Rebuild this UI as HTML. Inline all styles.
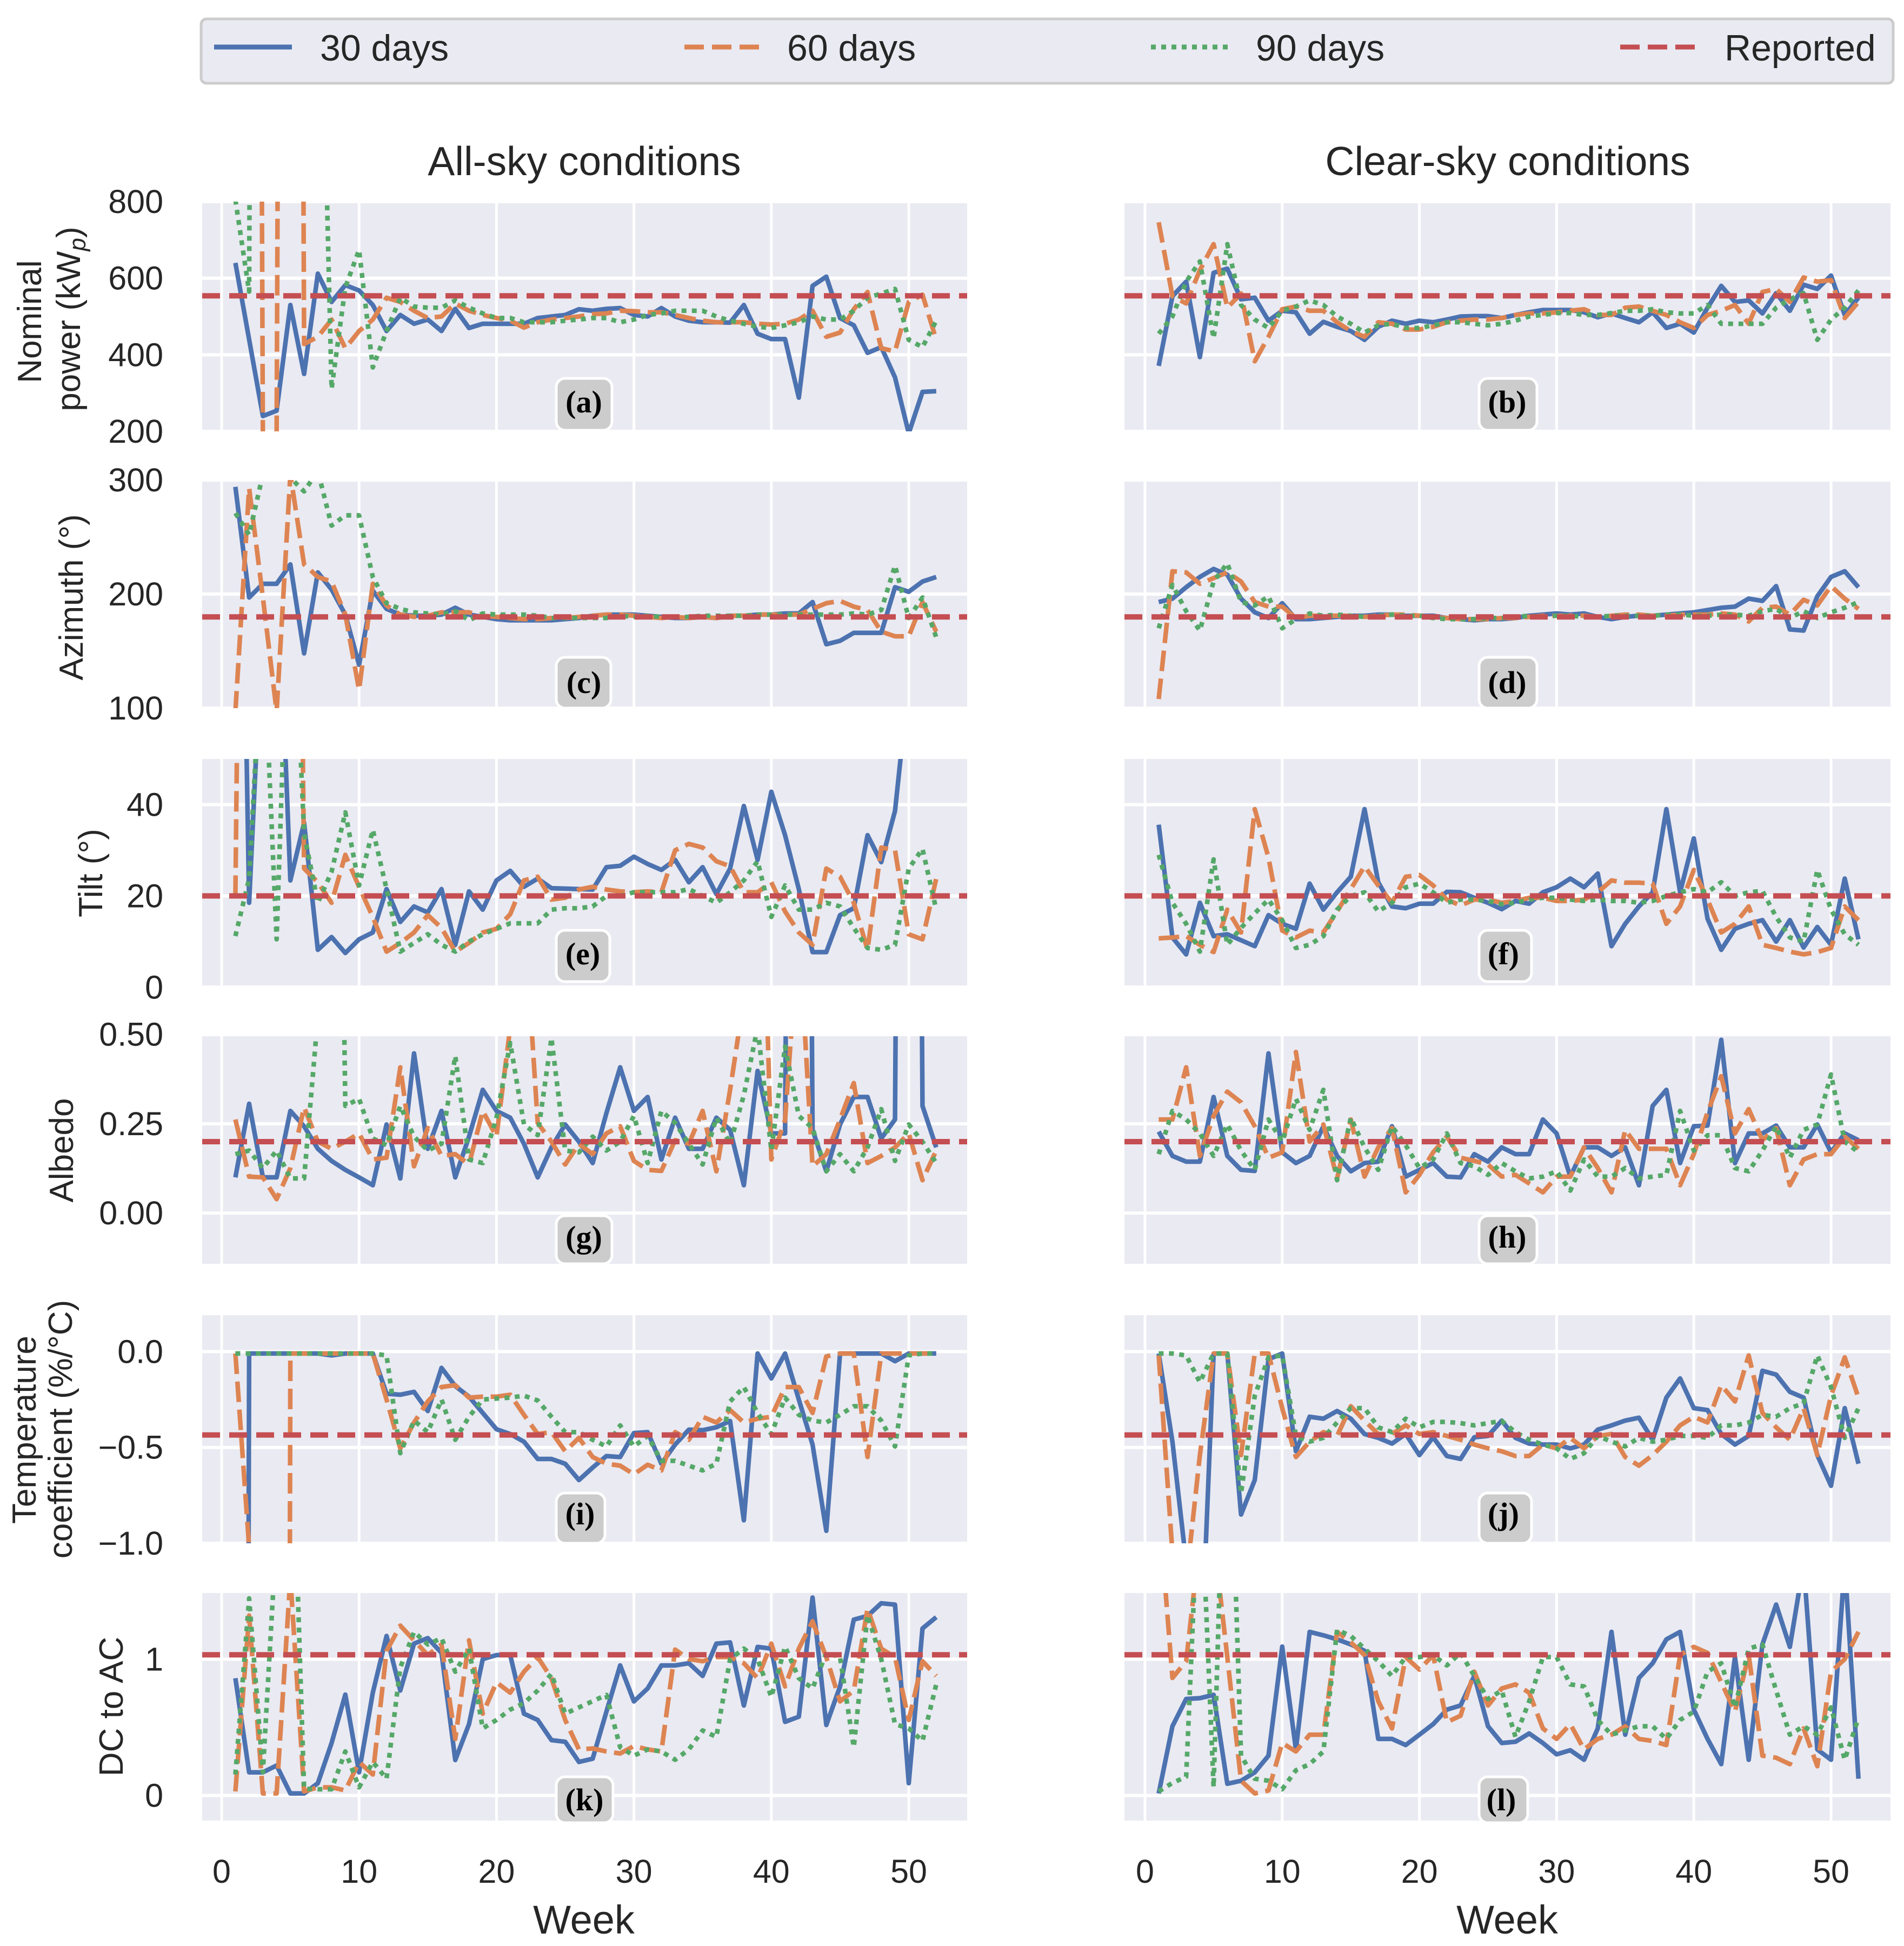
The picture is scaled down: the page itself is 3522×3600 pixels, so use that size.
<!DOCTYPE html>
<html lang="en">
<head>
<meta charset="utf-8">
<title>Parameter estimates by week</title>
<style>
html,body{margin:0;padding:0;background:#fff;overflow:hidden}
svg{display:block}
text{font-family:"Liberation Sans",sans-serif;fill:#262626}
</style>
</head>
<body>
<svg id="chart" xmlns="http://www.w3.org/2000/svg" width="3522" height="3600" viewBox="0 0 3522 3600">
  <rect x="0" y="0" width="3522" height="3600" fill="#ffffff"/>
  <g>
    <rect x="372" y="35" width="3130" height="119" rx="10" ry="10" fill="#eaeaf2" stroke="#cccccc" stroke-width="5"/>
    <g>
      <line x1="396" y1="87" x2="540" y2="87" stroke="#4c72b0" stroke-width="9"/>
      <text x="592" y="112" font-size="68">30 days</text>
    </g>
    <g>
      <line x1="1266" y1="87" x2="1404" y2="87" stroke="#dd8452" stroke-width="9" stroke-dasharray="36 15"/>
      <text x="1456" y="112" font-size="68">60 days</text>
    </g>
    <g>
      <line x1="2129" y1="87" x2="2271" y2="87" stroke="#55a868" stroke-width="9" stroke-dasharray="9 10"/>
      <text x="2323" y="112" font-size="68">90 days</text>
    </g>
    <g>
      <line x1="2997" y1="87" x2="3135" y2="87" stroke="#c44e52" stroke-width="9" stroke-dasharray="36 15"/>
      <text x="3190" y="112" font-size="68">Reported</text>
    </g>
  </g>
  <text x="1081" y="324" font-size="75" text-anchor="middle">All-sky conditions</text>
  <text x="2789" y="324" font-size="75" text-anchor="middle">Clear-sky conditions</text>
  <text transform="translate(76,595) rotate(-90)" font-size="62" text-anchor="middle">Nominal</text>
  <text transform="translate(148,590) rotate(-90)" font-size="62" text-anchor="middle">power (kW<tspan font-size="44" font-style="italic" dy="10">p</tspan><tspan dy="-10">)</tspan></text>
  <text transform="translate(153,1105) rotate(-90)" font-size="62" text-anchor="middle">Azimuth (°)</text>
  <text transform="translate(189,1615) rotate(-90)" font-size="62" text-anchor="middle">Tilt (°)</text>
  <text transform="translate(135,2128) rotate(-90)" font-size="62" text-anchor="middle">Albedo</text>
  <text transform="translate(66,2645) rotate(-90)" font-size="62" text-anchor="middle">Temperature</text>
  <text transform="translate(133,2644) rotate(-90)" font-size="62" text-anchor="middle">coefficient (%/°C)</text>
  <text transform="translate(227,3157) rotate(-90)" font-size="62" text-anchor="middle">DC to AC</text>
  <text x="1080" y="3577" font-size="74" text-anchor="middle">Week</text>
  <text x="2788" y="3577" font-size="74" text-anchor="middle">Week</text>
  <g id="panels"></g>
</svg>
<script>
const weeks = [1,2,3,4,5,6,7,8,9,10,11,12,13,14,15,16,17,18,19,20,21,22,23,24,25,26,27,28,29,30,31,32,33,34,35,36,37,38,39,40,41,42,43,44,45,46,47,48,49,50,51,52];
const xTicks = [0,10,20,30,40,50];

const powerTicks = [200,400,600,800];
const powerTickLabels = ['200','400','600','800'];
const azimuthTicks = [100,200,300];
const azimuthTickLabels = ['100','200','300'];
const tiltTicks = [0,20,40];
const tiltTickLabels = ['0','20','40'];
const albedoTicks = [0,0.25,0.5];
const albedoTickLabels = ['0.00','0.25','0.50'];
const tempTicks = [-1,-0.5,0];
const tempTickLabels = ['\u22121.0','\u22120.5','0.0'];
const dcacTicks = [0,1];
const dcacTickLabels = ['0','1'];

const reportedPower = 554;
const reportedAzimuth = 180;
const reportedTilt = 20;
const reportedAlbedo = 0.2;
const reportedTemp = -0.435;
const reportedDcac = 1.032;

const a30 = [640,440,240,254,530,350,612,538,582,568,530,462,504,481,492,462,520,470,481,481,481,481,496,500,504,519,515,520,522,504,500,522,500,489,485,485,484,530,455,441,441,288,580,604,496,477,405,420,341,195,303,305];
const a60 = [9000,9000,190,190,9000,428,447,492,417,462,492,549,538,515,496,500,534,515,504,496,489,471,485,492,496,500,506,508,515,514,511,511,504,496,489,485,485,485,481,479,481,492,515,447,458,519,564,417,409,538,557,439];
const a90 = [805,565,9000,9000,9000,9000,1800,311,576,674,367,462,549,526,523,523,542,523,508,496,496,485,485,485,489,492,496,496,485,492,504,508,515,515,515,500,489,481,473,470,477,485,500,492,492,515,549,560,572,439,420,489];

const b30 = [371,553,591,394,614,625,545,549,489,515,511,455,486,473,462,439,473,489,481,489,485,492,500,501,501,496,504,511,517,517,517,511,498,508,496,485,511,470,481,458,523,580,538,542,508,561,515,583,572,607,504,549];
const b60 = [746,553,534,621,689,523,560,383,447,519,526,515,515,485,462,447,485,481,466,466,473,485,489,492,492,496,504,508,508,511,515,519,504,504,523,526,515,504,485,470,504,515,530,481,564,572,538,602,591,595,496,538];
const b90 = [455,500,591,644,443,689,530,492,470,515,526,542,530,500,481,458,477,481,470,470,477,485,485,481,477,481,489,500,504,509,509,504,504,509,515,515,519,511,508,508,530,481,481,481,481,523,545,561,439,492,523,568];

const c30 = [294,197,209,209,226,148,219,204,182,138,203,187,182,181,181,182,188,182,180,178,177,177,177,177,178,179,181,182,182,182,181,180,179,179,180,179,181,181,182,182,183,183,193,156,159,166,166,166,206,202,211,215];
const c60 = [97,293,197,97,305,226,215,211,182,116,209,190,182,180,181,184,184,184,181,180,179,178,178,179,179,180,181,182,182,181,180,179,180,179,180,179,181,181,182,182,182,182,187,192,194,189,186,167,163,163,193,167];
const c90 = [271,252,305,330,302,290,308,260,269,269,215,192,187,184,183,182,185,177,183,182,182,182,181,179,179,179,179,179,181,180,181,180,180,180,181,181,181,181,182,182,182,182,182,182,182,183,182,186,225,179,197,162];

const d30 = [193,196,206,215,222,217,196,184,179,192,178,178,179,180,181,181,182,182,181,181,181,179,178,177,178,178,179,181,182,183,182,183,180,178,180,181,181,182,183,184,186,188,189,196,194,207,169,168,198,215,220,206];
const d60 = [108,220,219,209,214,219,211,193,189,189,179,181,181,181,181,180,181,182,182,181,180,179,178,178,178,179,179,180,181,181,181,181,180,181,182,182,181,181,182,182,182,183,182,176,188,189,182,195,190,207,196,187];
const d90 = [170,208,185,168,211,227,193,190,198,170,178,183,181,182,181,180,181,182,181,181,179,178,178,178,179,179,180,181,180,181,181,180,180,181,181,181,181,182,182,181,181,182,182,181,185,187,179,185,179,184,188,193];

const e30 = [193,18.5,82,100,23.4,36,8.2,11,7.5,10.5,12,21.5,14.3,17.7,16.4,21.5,9.3,21,17,23.4,25.5,22,23.8,21.7,21.6,21.5,21.4,26.3,26.6,28.6,27,25.7,27.9,23,26.3,20.4,26,39.7,27.9,42.8,33.3,21.5,7.7,7.7,15.8,17.3,33.3,27.4,38.6,67,80,80];
const e60 = [20,300,300,300,300,26,23,18.5,29,22,15.4,7.8,9.7,12,15.8,13,7.8,9.7,12,12.8,16,23.4,24.2,19.2,19.6,21.4,22,21.4,21,20.8,21,20.8,30,31.4,30.6,27.6,26.5,20.8,20.8,23,16.6,12,9.3,26,24.2,18.5,8.2,30.6,30,11.6,10.5,23.8];
const e90 = [11.2,23.8,80,10.5,100,33.7,18.5,25.3,38.3,22.3,34.5,21.5,7.8,9.7,11.6,9.3,7.8,10,11.6,12.8,14,14,14,17,17.3,17.3,17.7,20,20,20.8,20.8,20.8,20.8,21.5,20,18.5,20.8,23.4,27.6,15.4,22.3,17,17,18.5,17.7,13,8.6,8.2,9.3,26,30.3,17];

const f30 = [35.6,10.9,7.2,18.5,11.2,11.6,10.3,9,15.8,13.9,12.8,22.7,17,20.8,24.2,39,23,17.7,17.3,18.3,18.3,20.9,20.8,19.6,18.5,17.1,18.9,18.3,20.8,21.9,23.8,21.9,24.9,9,13.9,17.7,20.8,39,20.8,32.6,15,8.2,12.8,13.9,14.7,10,14.7,8.7,13.2,9.3,23.8,10.5];
const f60 = [10.7,10.9,11.2,9.3,7.7,17,12,39,28.4,12.4,10.9,12.4,12,16.6,21.5,26.5,22.3,18.5,24.2,24.6,22.3,19.2,17.9,19.2,19.2,18.5,18.9,19.6,19.6,18.9,18.9,19.2,20.8,23.4,22.9,22.9,22.7,13.9,17.7,25.7,19.2,12,13.9,17.7,9.3,8.6,7.8,7.2,7.7,8.6,17.7,14.7];
const f90 = [29,18.5,13.9,7.8,28,9.3,13,16.2,19.2,14.7,8.6,9.3,11.2,17,20,20.8,16.6,18.5,21.9,22.7,20.8,18.5,19.2,19.2,18.9,18.2,18.5,19.2,19.6,19.6,19.2,18.9,19.2,18.9,18.9,18.5,18.9,20,20.8,21.5,20.8,23,20,20.8,21.1,15.4,10.9,10,25.7,17,11.6,9.3];

const g30 = [0.10,0.306,0.10,0.10,0.286,0.243,0.18,0.146,0.121,0.10,0.078,0.248,0.097,0.447,0.18,0.286,0.10,0.214,0.345,0.286,0.267,0.194,0.10,0.184,0.248,0.2,0.14,0.28,0.408,0.286,0.325,0.15,0.267,0.18,0.18,0.267,0.233,0.078,0.398,0.223,0.223,6,0.233,0.117,0.248,0.325,0.325,0.209,0.262,6,0.30,0.184];
const g60 = [0.262,0.102,0.10,0.039,0.126,0.296,0.2,0.18,0.2,0.223,0.15,0.155,0.408,0.131,0.238,0.16,0.165,0.136,0.286,0.214,0.52,0.85,0.252,0.2,0.136,0.194,0.165,0.223,0.243,0.146,0.121,0.118,0.204,0.194,0.286,0.117,0.345,0.6,1.5,0.15,0.26,0.8,0.131,0.165,0.262,0.364,0.14,0.16,0.184,0.223,0.092,0.175];
const g90 = [0.165,0.175,0.126,0.175,0.097,0.097,0.55,3,0.30,0.32,0.209,0.19,0.30,0.214,0.175,0.194,0.44,0.15,0.14,0.267,0.476,0.248,0.218,0.49,0.175,0.17,0.214,0.175,0.2,0.272,0.14,0.286,0.252,0.194,0.136,0.267,0.194,0.33,0.52,0.175,0.466,0.272,0.238,0.117,0.165,0.117,0.184,0.291,0.146,0.248,0.2,0.14];

const h30 = [0.228,0.16,0.144,0.144,0.325,0.16,0.121,0.118,0.447,0.17,0.14,0.16,0.243,0.16,0.117,0.14,0.144,0.243,0.102,0.121,0.14,0.102,0.10,0.165,0.144,0.184,0.165,0.165,0.262,0.223,0.102,0.184,0.184,0.16,0.184,0.078,0.30,0.345,0.14,0.243,0.245,0.485,0.14,0.223,0.223,0.245,0.184,0.184,0.248,0.17,0.223,0.204];
const h60 = [0.262,0.262,0.408,0.16,0.272,0.34,0.31,0.243,0.155,0.17,0.451,0.2,0.248,0.097,0.262,0.102,0.184,0.238,0.058,0.107,0.17,0.214,0.155,0.146,0.136,0.102,0.107,0.083,0.058,0.102,0.102,0.184,0.126,0.058,0.233,0.18,0.18,0.18,0.078,0.165,0.282,0.383,0.223,0.291,0.204,0.238,0.078,0.15,0.165,0.165,0.214,0.18];
const h90 = [0.165,0.286,0.262,0.223,0.16,0.248,0.175,0.121,0.262,0.2,0.32,0.233,0.345,0.092,0.267,0.184,0.121,0.243,0.19,0.126,0.15,0.223,0.14,0.131,0.107,0.14,0.117,0.097,0.102,0.117,0.063,0.15,0.102,0.102,0.126,0.097,0.102,0.107,0.286,0.175,0.218,0.218,0.126,0.117,0.175,0.243,0.155,0.233,0.248,0.388,0.2,0.17];

const i30 = [-25,-0.01,-0.01,-0.01,-0.01,-0.01,-0.01,-0.02,-0.01,-0.01,-0.01,-0.22,-0.225,-0.21,-0.31,-0.085,-0.18,-0.235,-0.32,-0.405,-0.43,-0.47,-0.56,-0.56,-0.585,-0.67,-0.605,-0.545,-0.55,-0.425,-0.42,-0.585,-0.485,-0.407,-0.41,-0.395,-0.362,-0.88,-0.01,-0.14,-0.01,-0.25,-0.485,-0.935,-0.01,-0.01,-0.01,-0.01,-0.05,-0.01,-0.01,-0.01];
const i60 = [-0.01,-1.02,-30,-30,-0.01,-0.01,-0.01,-0.01,-0.01,-0.01,-0.01,-0.25,-0.505,-0.37,-0.26,-0.185,-0.175,-0.24,-0.235,-0.235,-0.225,-0.33,-0.43,-0.42,-0.52,-0.45,-0.55,-0.585,-0.595,-0.64,-0.59,-0.62,-0.42,-0.46,-0.34,-0.37,-0.305,-0.37,-0.35,-0.34,-0.185,-0.185,-0.32,-0.025,-0.01,-0.01,-0.55,-0.01,-0.01,-0.01,-0.01,-0.01];
const i90 = [-0.01,-0.01,-0.01,-0.01,-0.01,-0.01,-0.01,-0.01,-0.01,-0.01,-0.01,-0.02,-0.53,-0.36,-0.42,-0.25,-0.46,-0.34,-0.25,-0.245,-0.24,-0.23,-0.255,-0.34,-0.42,-0.42,-0.46,-0.495,-0.385,-0.495,-0.44,-0.57,-0.57,-0.595,-0.62,-0.585,-0.26,-0.185,-0.32,-0.43,-0.24,-0.33,-0.36,-0.37,-0.33,-0.285,-0.285,-0.36,-0.495,-0.02,-0.01,-0.01];

const j30 = [-0.01,-0.47,-1.1,-1.76,-0.01,-0.01,-0.85,-0.67,-0.04,-0.01,-0.52,-0.34,-0.35,-0.31,-0.35,-0.43,-0.45,-0.48,-0.43,-0.54,-0.447,-0.545,-0.56,-0.447,-0.44,-0.36,-0.45,-0.48,-0.485,-0.485,-0.505,-0.485,-0.407,-0.385,-0.36,-0.345,-0.46,-0.24,-0.14,-0.295,-0.305,-0.43,-0.485,-0.44,-0.1,-0.12,-0.21,-0.24,-0.54,-0.7,-0.295,-0.585];
const j60 = [-0.02,-1.05,-1.2,-0.54,-0.01,-0.01,-0.54,-0.01,-0.01,-0.295,-0.55,-0.47,-0.42,-0.44,-0.285,-0.36,-0.43,-0.43,-0.385,-0.43,-0.42,-0.44,-0.46,-0.485,-0.505,-0.52,-0.545,-0.545,-0.485,-0.505,-0.45,-0.505,-0.44,-0.43,-0.55,-0.595,-0.54,-0.47,-0.385,-0.34,-0.37,-0.175,-0.26,-0.02,-0.32,-0.395,-0.46,-0.295,-0.54,-0.23,-0.03,-0.24];
const j90 = [-0.01,-0.01,-0.02,-0.16,-0.01,-0.01,-0.74,-0.23,-0.03,-0.02,-0.44,-0.47,-0.45,-0.37,-0.295,-0.295,-0.395,-0.42,-0.35,-0.395,-0.367,-0.367,-0.373,-0.385,-0.373,-0.362,-0.42,-0.46,-0.485,-0.505,-0.56,-0.53,-0.44,-0.47,-0.495,-0.45,-0.47,-0.46,-0.44,-0.44,-0.45,-0.385,-0.385,-0.37,-0.33,-0.34,-0.295,-0.27,-0.02,-0.185,-0.45,-0.295];

const k30 = [0.86,0.17,0.17,0.22,0.015,0.015,0.09,0.385,0.74,0.17,0.754,1.17,0.77,1.114,1.154,1.046,0.26,0.523,1,1.03,1.03,0.6,0.554,0.406,0.394,0.246,0.27,0.615,0.954,0.69,0.785,0.954,0.954,0.97,0.877,1.114,1.123,0.66,1.09,1.077,0.54,0.578,1.452,0.517,0.8,1.29,1.317,1.41,1.4,0.09,1.225,1.308];
const k60 = [0.03,1.32,0.015,0.015,1.6,0.03,0.06,0.06,0.037,0.246,0.154,1.06,1.246,1.138,1.03,1.108,0.415,1.138,0.6,0.83,0.754,0.908,1.015,0.86,0.554,0.338,0.345,0.323,0.308,0.363,0.338,0.323,1.07,1,0.985,1.015,1.015,0.97,0.86,1.114,0.8,1.077,1.277,1.015,0.69,0.77,1.37,1.077,1.015,0.554,0.985,0.877];
const k90 = [0.154,1.446,0.17,1.94,3.2,0.05,0.046,0.046,0.323,0.06,0.246,0.123,0.938,1.2,1.108,1.154,0.908,1.077,0.492,0.554,0.63,0.677,0.77,0.892,0.6,0.646,0.692,0.738,0.354,0.292,0.338,0.323,0.262,0.338,0.477,0.43,1,1.077,1,0.723,1.092,0.86,0.785,1.046,1.015,0.354,1.323,1,0.523,0.492,0.4,0.815];

const l30 = [0.015,0.508,0.708,0.714,0.738,0.086,0.108,0.17,0.292,1.092,0.338,1.2,1.175,1.145,1.108,1.062,0.415,0.415,0.37,0.446,0.523,0.63,0.66,0.877,0.508,0.385,0.394,0.455,0.385,0.302,0.332,0.262,0.492,1.2,0.446,0.862,0.97,1.145,1.2,0.63,0.415,0.23,1.015,0.262,1.108,1.4,1.09,1.7,0.338,0.262,1.7,0.123];
const l60 = [2.13,0.862,0.985,1.88,1.9,1.015,0.108,0.015,0.037,0.385,0.323,0.446,0.446,1.2,1.123,1.03,0.692,0.492,1.015,0.923,1.03,0.538,0.585,0.908,0.66,0.785,0.815,0.754,0.492,0.415,0.523,0.338,0.415,0.446,0.508,0.415,0.4,0.37,1.03,1.09,1.046,0.83,0.615,1.03,0.292,0.277,0.23,0.492,0.215,0.908,1,1.2];
const l90 = [0.03,0.092,0.138,2.47,0.06,3.46,0.292,0.123,0.108,0.046,0.185,0.23,0.323,1.215,1.17,1.077,0.985,0.877,1.015,1.015,1.03,0.954,1.046,0.877,0.708,0.77,0.43,0.69,1.015,1.015,0.815,0.8,0.554,0.446,0.477,0.508,0.508,0.415,0.554,0.615,0.908,0.97,0.646,1.077,1.108,0.77,0.446,0.508,0.446,0.646,0.262,0.569];

const seriesNames = ['30-days','60-days','90-days'];
const seriesStyles = [
  {color:'#4c72b0', width:8.5, dash:''},
  {color:'#dd8452', width:8.5, dash:'38 14'},
  {color:'#55a868', width:8.5, dash:'9 10'}
];

const columns = {
  left:  {x0:410,  unit:25.42, left:374,  right:1789, tickLabels:true},
  right: {x0:2118, unit:25.38, left:2080, right:3497, tickLabels:false}
};
const rows = {
  power:   {top:373,  bottom:798,  min:200,    max:800,   ticks:powerTicks,   labels:powerTickLabels,   reported:reportedPower},
  azimuth: {top:888,  bottom:1310, min:100,    max:300,   ticks:azimuthTicks, labels:azimuthTickLabels, reported:reportedAzimuth},
  tilt:    {top:1404, bottom:1823, min:0.4,    max:50,    ticks:tiltTicks,    labels:tiltTickLabels,    reported:reportedTilt},
  albedo:  {top:1917, bottom:2338, min:-0.142, max:0.495, ticks:albedoTicks,  labels:albedoTickLabels,  reported:reportedAlbedo},
  temp:    {top:2433, bottom:2855, min:-1,     max:0.19,  ticks:tempTicks,    labels:tempTickLabels,    reported:reportedTemp},
  dcac:    {top:2947, bottom:3368, min:-0.184, max:1.485, ticks:dcacTicks,    labels:dcacTickLabels,    reported:reportedDcac}
};
const panels = [
  {id:'a', col:'left',  row:'power',   series:[a30,a60,a90], box:[1029,700,103,96],  text:[1080,763]},
  {id:'b', col:'right', row:'power',   series:[b30,b60,b90], box:[2736,700,107,96],  text:[2788,763]},
  {id:'c', col:'left',  row:'azimuth', series:[c30,c60,c90], box:[1029,1216,101,94], text:[1080,1282]},
  {id:'d', col:'right', row:'azimuth', series:[d30,d60,d90], box:[2736,1216,107,94], text:[2788,1282]},
  {id:'e', col:'left',  row:'tilt',    series:[e30,e60,e90], box:[1029,1721,99,95],  text:[1078,1784]},
  {id:'f', col:'right', row:'tilt',    series:[f30,f60,f90], box:[2736,1721,97,95],  text:[2781,1784]},
  {id:'g', col:'left',  row:'albedo',  series:[g30,g60,g90], box:[1029,2249,103,89], text:[1080,2308]},
  {id:'h', col:'right', row:'albedo',  series:[h30,h60,h90], box:[2736,2249,107,89], text:[2788,2308]},
  {id:'i', col:'left',  row:'temp',    series:[i30,i60,i90], box:[1029,2762,90,93],  text:[1073,2820]},
  {id:'j', col:'right', row:'temp',    series:[j30,j60,j90], box:[2736,2762,97,93],  text:[2781,2820]},
  {id:'k', col:'left',  row:'dcac',    series:[k30,k60,k90], box:[1029,3287,105,85], text:[1081,3349]},
  {id:'l', col:'right', row:'dcac',    series:[l30,l60,l90], box:[2736,3287,90,85],  text:[2777,3349]}
];

const NS = 'http://www.w3.org/2000/svg';
const root = document.getElementById('panels');

function mk(tag, attrs, parent) {
  const el = document.createElementNS(NS, tag);
  for (const k in attrs) el.setAttribute(k, attrs[k]);
  parent.appendChild(el);
  return el;
}
function xScale(col, week) { return col.x0 + col.unit * week; }
function yScale(row, value) {
  return row.bottom - (value - row.min) / (row.max - row.min) * (row.bottom - row.top);
}
/* Builds the line path, trimming each segment to just beyond the panel so
   off-scale values stay steep but never extend past the page. */
function linePath(col, row, values) {
  const lo = row.top - 12, hi = row.bottom + 12;
  let d = '', lastX = null, lastY = null;
  for (let i = 1; i < values.length; i++) {
    const x1 = xScale(col, weeks[i - 1]), y1 = yScale(row, values[i - 1]);
    const x2 = xScale(col, weeks[i]), y2 = yScale(row, values[i]);
    if ((y1 < lo && y2 < lo) || (y1 > hi && y2 > hi)) continue;
    let t1 = 0, t2 = 1;
    if (y1 !== y2) {
      const tLo = (lo - y1) / (y2 - y1), tHi = (hi - y1) / (y2 - y1);
      t1 = Math.max(0, Math.min(tLo, tHi));
      t2 = Math.min(1, Math.max(tLo, tHi));
    }
    const ax = x1 + (x2 - x1) * t1, ay = y1 + (y2 - y1) * t1;
    const bx = x1 + (x2 - x1) * t2, by = y1 + (y2 - y1) * t2;
    if (lastX === null || Math.abs(lastX - ax) > 0.01 || Math.abs(lastY - ay) > 0.01) {
      d += 'M' + ax.toFixed(2) + ' ' + ay.toFixed(2);
    }
    d += 'L' + bx.toFixed(2) + ' ' + by.toFixed(2);
    lastX = bx;
    lastY = by;
  }
  return d;
}

const defs = mk('defs', {}, root);

panels.forEach(function (p) {
  const col = columns[p.col];
  const row = rows[p.row];

  const clip = mk('clipPath', {id: 'clip-' + p.id}, defs);
  mk('rect', {x: col.left, y: row.top, width: col.right - col.left, height: row.bottom - row.top}, clip);

  const g = mk('g', {}, root);
  
  

  const bg = mk('rect', {x: col.left, y: row.top, width: col.right - col.left, height: row.bottom - row.top, fill: '#eaeaf2'}, g);
  
  

  xTicks.forEach(function (t) {
    const x = xScale(col, t);
    const gl = mk('line', {x1: x, x2: x, y1: row.top, y2: row.bottom, stroke: '#ffffff', 'stroke-width': 5}, g);
    
    
  });
  row.ticks.forEach(function (t, i) {
    const y = yScale(row, t);
    const gl = mk('line', {x1: col.left, x2: col.right, y1: y, y2: y, stroke: '#ffffff', 'stroke-width': 6, 'clip-path': 'url(#clip-' + p.id + ')'}, g);
    
    
    if (col.tickLabels) {
      const tl = mk('text', {x: 302, y: y + 21, 'font-size': 61, 'text-anchor': 'end'}, root);
      tl.textContent = row.labels[i];
      
      
    }
  });

  const plot = mk('g', {'clip-path': 'url(#clip-' + p.id + ')'}, g);
  
  

  p.series.forEach(function (values, i) {
    const s = seriesStyles[i];
    const path = mk('path', {d: linePath(col, row, values), fill: 'none', stroke: s.color, 'stroke-width': s.width, 'stroke-linejoin': 'round'}, plot);
    if (s.dash) path.setAttribute('stroke-dasharray', s.dash);
    
    
  });

  const ry = yScale(row, row.reported);
  const rep = mk('line', {x1: col.left, x2: col.right, y1: ry, y2: ry, stroke: '#c44e52', 'stroke-width': 10, 'stroke-dasharray': '33 17'}, plot);
  
  

  const box = mk('rect', {x: p.box[0], y: p.box[1], width: p.box[2], height: p.box[3], rx: 16, ry: 16, fill: '#cccccc', stroke: '#ffffff', 'stroke-width': 5}, g);
  
  

  const lab = mk('text', {x: p.text[0], y: p.text[1], 'font-size': 58, 'font-weight': 'bold', 'text-anchor': 'middle', style: 'font-family:"Liberation Serif",serif;fill:#000'}, g);
  lab.textContent = '(' + p.id + ')';
  
  
});

Object.keys(columns).forEach(function (key) {
  const col = columns[key];
  xTicks.forEach(function (t) {
    const tl = mk('text', {x: xScale(col, t), y: 3483, 'font-size': 61, 'text-anchor': 'middle'}, root);
    tl.textContent = String(t);
    
    
  });
});
</script>
</body>
</html>
